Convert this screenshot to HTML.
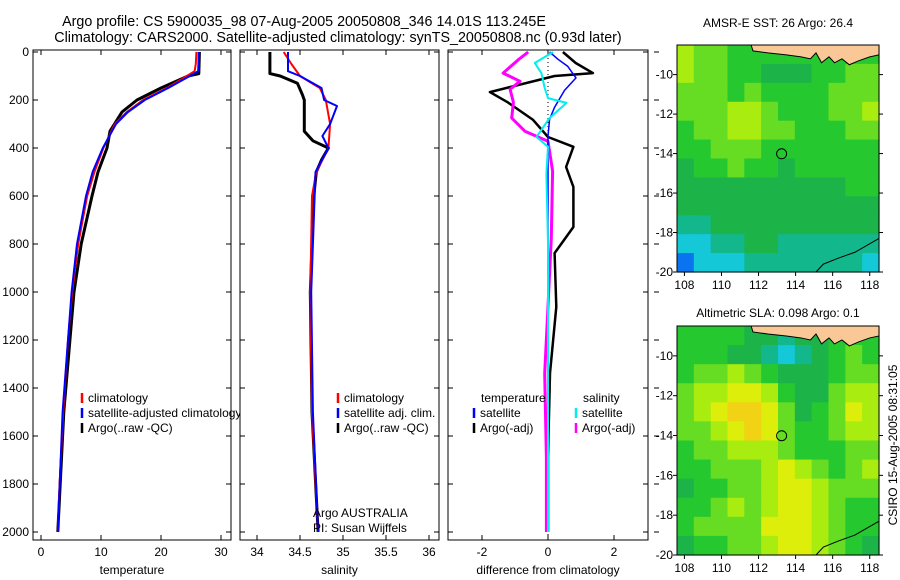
<!DOCTYPE html>
<html><head><meta charset="utf-8"><style>
body{margin:0;background:#fff}
svg{display:block;font-family:"Liberation Sans",sans-serif;}
text{font-size:12px;fill:#000}
</style></head><body>
<svg id="c" width="900" height="580" viewBox="0 0 900 580">
<text x="304" y="26" text-anchor="middle" style="font-size:14.3px">Argo profile: CS 5900035_98 07-Aug-2005 20050808_346 14.01S 113.245E</text>
<text x="338" y="42" text-anchor="middle" style="font-size:14.3px">Climatology: CARS2000. Satellite-adjusted climatology: synTS_20050808.nc (0.93d later)</text>
<text x="778" y="27" text-anchor="middle">AMSR-E SST: 26 Argo: 26.4</text>
<text x="778" y="317" text-anchor="middle">Altimetric SLA: 0.098 Argo: 0.1</text>
<text transform="translate(897,445) rotate(-90)" text-anchor="middle">CSIRO 15-Aug-2005 08:31:05</text>
</svg>
<script>
// ---- data ----
const depthTicks=[0,200,400,600,800,1000,1200,1400,1600,1800,2000];
const tempTicks=[0,10,20,30];
const salTicks=[34,34.5,35,35.5,36];
const diffTicks=[-2,0,2];
const tempClimD=[0,50,80,100,150,200,250,300,400,500,600,800,1000,1200,1500,1800,2000];
const tempClimV=[25.9,25.8,25.6,24.3,21,17,14.3,12.3,10.4,8.9,7.7,6.2,5.2,4.5,3.7,3.1,2.8];
const tempSatD=[0,80,100,150,200,250,300,400,500,600,800,1000,1500,2000];
const tempSatV=[26.3,26.2,24.8,21.2,17.3,14.5,12.5,10.3,8.6,7.5,6.0,5.1,3.6,2.8];
const tempArgoD=[0,90,100,150,200,250,330,400,500,600,800,1000,1500,2000];
const tempArgoV=[26.4,26.3,24.5,20,16,13.5,11.5,11,9.5,8.5,6.7,5.5,3.8,2.8];
const salClimD=[0,50,100,150,200,300,400,500,600,1000,1500,2000];
const salClimV=[34.31,34.4,34.5,34.73,34.8,34.85,34.83,34.69,34.64,34.62,34.64,34.71];
const salSatD=[0,80,100,150,200,225,300,350,400,500,1000,1500,2000];
const salSatV=[34.36,34.36,34.5,34.75,34.78,34.93,34.85,34.76,34.83,34.68,34.63,34.65,34.71];
const salArgoD=[0,90,100,130,180,200,330,370,400,450,500,600,1000,1500,2000];
const salArgoV=[34.15,34.15,34.27,34.47,34.53,34.55,34.55,34.65,34.83,34.75,34.69,34.66,34.62,34.64,34.71];
const dTSatD=[0,30,60,108,160,230,280,350,2000];
const dTSatV=[0.05,0.3,0.6,0.85,0.5,0.2,0.05,0,0];
const dTArgoD=[0,46,88,100,167,208,283,354,395,479,562,729,838,1062,1338,1687,2000];
const dTArgoV=[0.45,0.84,1.36,0.2,-1.76,-1.24,-0.45,0,0.77,0.55,0.77,0.77,0.2,0.25,0.06,0,0];
const dSSatD=[0,46,88,150,192,212,275,354,395,507,800,2000];
const dSSatV=[0.15,-0.4,-0.2,-0.1,0,0.56,0.05,-0.35,0,-0.05,0,0];
const dSArgoD=[0,32,88,122,155,210,275,330,372,496,775,1060,1340,1690,2000];
const dSArgoV=[-0.6,-0.9,-1.36,-0.85,-1.15,-1.05,-1.1,-0.7,0,0.14,0.1,0,-0.1,-0.05,-0.05];
const lonTicks=[108,110,112,114,116,118];
const latTicks=[-10,-12,-14,-16,-18,-20];
const sstGrid=[
"655444444444","655443334455","555454444555","555665444556","455665544455","445554444444",
"344544344444","333333333344","333333333333","223333333333","112233222222","011122222221"];
const slaGrid=[
"444433233444","444332123454","455654333455","566776433566","567887534576","556787544566",
"455666544455","445556765456","344556776555","445656776544","455557776544","344556776543"];
const palette=["#0a74f0","#14c8d8","#12b88c","#1cb448","#26c830","#66dc22","#a8ec10","#dcee0a","#f2d214","#f0b010"];
const argoLon=113.245, argoLat=-14.01;

const svg=document.getElementById('c');
const NS="http://www.w3.org/2000/svg";
function el(t,a,p){const e=document.createElementNS(NS,t);for(const k in a)e.setAttribute(k,a[k]);(p||svg).appendChild(e);return e;}
const yTop=52, ySc=0.24;
function yD(d){return yTop+d*ySc;}
const Y0=50,Y1=540;

function panel(name,x0,x1,xf,ticks,fmt,xlabel,leftLabels){
  const g=el('g',{});
  
  
  el('rect',{x:x0,y:Y0,width:x1-x0,height:Y1-Y0,fill:'#fff',stroke:'#000','stroke-width':1},g);
  depthTicks.forEach(d=>{
    const y=yD(d);
    el('line',{x1:x0,x2:x0+5,y1:y,y2:y,stroke:'#000'},g);
    el('line',{x1:x1,x2:x1-5,y1:y,y2:y,stroke:'#000'},g);
    if(leftLabels){const t=el('text',{x:x0-4,y:y+4,'text-anchor':'end'},g);t.textContent=d;
      
      }
  });
  ticks.forEach(v=>{
    const x=xf(v);
    el('line',{x1:x,x2:x,y1:Y0,y2:Y0+5,stroke:'#000'},g);
    el('line',{x1:x,x2:x,y1:Y1,y2:Y1-5,stroke:'#000'},g);
    const t=el('text',{x:x,y:Y1+16,'text-anchor':'middle'},g);t.textContent=fmt(v);
    
    
  });
  const t=el('text',{x:(x0+x1)/2,y:Y1+34,'text-anchor':'middle'},g);t.textContent=xlabel;
  
  
  return g;
}
function line(g,D,V,xf,col,w,name,dash){
  const pts=D.map((d,i)=>xf(V[i]).toFixed(1)+','+yD(d).toFixed(1)).join(' ');
  const p=el('polyline',{points:pts,fill:'none',stroke:col,'stroke-width':w,'stroke-linejoin':'round'},g);
  if(dash)p.setAttribute('stroke-dasharray',dash);
  
  
}
function legend(g,x,y,col,label){
  if(col) el('line',{x1:x,x2:x,y1:y-9,y2:y+1,stroke:col,'stroke-width':2.5},g);
  const t=el('text',{x:x+(col?6:0),y:y},g);t.textContent=label;
  
  
}
// Panel 1 temperature
const xT=v=>41+6*v;
const g1=panel('temperature-panel',33,231,xT,tempTicks,v=>v,'temperature',true);
line(g1,tempArgoD,tempArgoV,xT,'#000',3,'argo-temperature-line');
line(g1,tempClimD,tempClimV,xT,'#f00',2,'clim-temperature-line');
line(g1,tempSatD,tempSatV,xT,'#00f',2,'sat-temperature-line');
legend(g1,82,402,'#f00','climatology');
legend(g1,82,417,'#00f','satellite-adjusted climatology');
legend(g1,82,432,'#000','Argo(..raw -QC)');
// Panel 2 salinity
const xS=v=>257+86*(v-34);
const g2=panel('salinity-panel',240,439,xS,salTicks,v=>v,'salinity',false);
line(g2,salArgoD,salArgoV,xS,'#000',3,'argo-salinity-line');
line(g2,salClimD,salClimV,xS,'#f00',2,'clim-salinity-line');
line(g2,salSatD,salSatV,xS,'#00f',2,'sat-salinity-line');
legend(g2,338,402,'#f00','climatology');
legend(g2,338,417,'#00f','satellite adj. clim.');
legend(g2,338,432,'#000','Argo(..raw -QC)');
legend(g2,313,517,null,'Argo AUSTRALIA');
legend(g2,313,532,null,'PI: Susan Wijffels');
// Panel 3 differences
const xDf=v=>548+33*v;
const g3=panel('difference-panel',448,648,xDf,diffTicks,v=>v,'difference from climatology',false);
el('line',{x1:xDf(0),x2:xDf(0),y1:Y0,y2:Y1,stroke:'#000','stroke-dasharray':'1,3'},g3);
depthTicks.forEach(d=>el('line',{x1:654,x2:659,y1:yD(d),y2:yD(d),stroke:'#000'},g3));
line(g3,dTArgoD,dTArgoV,xDf,'#000',2.5,'argo-temp-diff-line');
line(g3,dSArgoD,dSArgoV,xDf,'#f0f',3,'argo-sal-diff-line');
line(g3,dTSatD,dTSatV,xDf,'#00f',1.5,'sat-temp-diff-line');
line(g3,dSSatD,dSSatV,xDf,'#0ee',2,'sat-sal-diff-line');
legend(g3,481,402,null,'temperature');
legend(g3,474,417,'#00f','satellite');
legend(g3,474,432,'#000','Argo(-adj)');
legend(g3,583,402,null,'salinity');
legend(g3,576,417,'#0ee','satellite');
legend(g3,576,432,'#f0f','Argo(-adj)');

// Maps
function map(name,grid,y0,y1){
  const x0=677,x1=879,lon0=107.6,lon1=118.5,lat0=-8.5,lat1=-20;
  const lx=v=>x0+(v-lon0)/(lon1-lon0)*(x1-x0);
  const ly=v=>y0+(v-lat0)/(lat1-lat0)*(y1-y0);
  const g=el('g',{});
  
  
  const rows=grid.length, cols=grid[0].length;
  const cw=(x1-x0)/cols, ch=(y1-y0)/rows;
  grid.forEach((r,i)=>{for(let j=0;j<cols;j++){
    const c=el('rect',{x:x0+j*cw,y:y0+i*ch,width:cw+0.6,height:ch+0.6,fill:palette[+r[j]]},g);
    
    
  }});
  const land=[[111.6,-8.5],[111.7,-8.8],[112.5,-8.9],[113.5,-9.0],[114.3,-9.1],[114.8,-9.2],[115.1,-8.9],[115.4,-9.4],[115.8,-9.1],[116.1,-9.4],[116.5,-9.2],[116.9,-9.5],[117.4,-9.3],[118,-9.1],[118.5,-9.0],[118.5,-8.5]];
  const lp=el('polygon',{points:land.map(p=>lx(p[0])+','+ly(p[1])).join(' '),fill:'#f9c896',stroke:'#000','stroke-width':1},g);
  
  
  const coast=[[115.1,-20],[115.5,-19.6],[116.3,-19.3],[117.2,-19.0],[118.5,-18.3]];
  el('polyline',{points:coast.map(p=>lx(p[0])+','+ly(p[1])).join(' '),fill:'none',stroke:'#000'},g);
  const m=el('circle',{cx:lx(argoLon),cy:ly(argoLat),r:5,fill:'none',stroke:'#000','stroke-width':1},g);
  
  
  el('rect',{x:x0,y:y0,width:x1-x0,height:y1-y0,fill:'none',stroke:'#000'},g);
  lonTicks.forEach(v=>{const x=lx(v);el('line',{x1:x,x2:x,y1:y1,y2:y1+4,stroke:'#000'},g);
    const t=el('text',{x:x,y:y1+17,'text-anchor':'middle'},g);t.textContent=v;
    
    });
  latTicks.forEach(v=>{const y=ly(v);el('line',{x1:x0-4,x2:x0,y1:y,y2:y,stroke:'#000'},g);
    el('line',{x1:x1,x2:x1+4,y1:y,y2:y,stroke:'#000'},g);
    const t=el('text',{x:x0-4,y:y+4,'text-anchor':'end'},g);t.textContent=v;
    
    });
}
map('sst-map',sstGrid,45,272);
map('sla-map',slaGrid,326,555);
</script>
</body></html>
